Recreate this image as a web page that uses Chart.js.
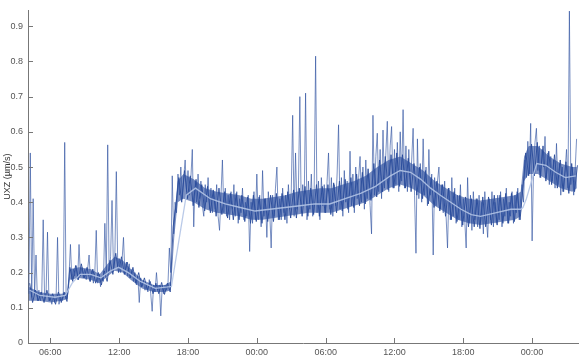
<!DOCTYPE html>
<html lang="en">
<head>
  <meta charset="UTF-8" />
  <title>UXZ</title>
  <style>
    body {
      margin: 0;
      background: #ffffff;
    }
    canvas {
      display: block;
    }
  </style>
</head>
<body>
  <canvas id="uxzChart" width="584" height="360"></canvas>

  <script src="https://cdn.jsdelivr.net/npm/chart.js"></script>
  <script>
    // raw signal, one value every 7.5 min (hours since day 1 00:00)
    const rawStart = 4.125;
    const rawStep = 0.125;
    const rawValues = [
      0.14, 0.54, 0.13, 0.41, 0.14, 0.25, 0.12, 0.15,
      0.12, 0.14, 0.35, 0.12, 0.14, 0.315, 0.12, 0.135,
      0.11, 0.135, 0.115, 0.13, 0.30, 0.11, 0.135, 0.12,
      0.13, 0.57, 0.125, 0.14, 0.19, 0.28, 0.18, 0.21,
      0.19, 0.22, 0.18, 0.28, 0.19, 0.215, 0.185, 0.21,
      0.18, 0.21, 0.25, 0.175, 0.205, 0.17, 0.2, 0.32,
      0.17, 0.195, 0.16, 0.19, 0.175, 0.34, 0.2, 0.563,
      0.2, 0.245, 0.405, 0.21, 0.25, 0.487, 0.215, 0.24,
      0.2, 0.235, 0.30, 0.195, 0.23, 0.19, 0.225, 0.185,
      0.21, 0.175, 0.2, 0.165, 0.19, 0.115, 0.185, 0.16,
      0.175, 0.15, 0.17, 0.145, 0.18, 0.14, 0.09, 0.165,
      0.145, 0.2, 0.15, 0.165, 0.077, 0.16, 0.14, 0.165,
      0.15, 0.165, 0.27, 0.2, 0.475, 0.31, 0.4, 0.37,
      0.48, 0.42, 0.5, 0.41, 0.47, 0.52, 0.43, 0.49,
      0.42, 0.47, 0.55, 0.33, 0.46, 0.4, 0.48, 0.41,
      0.46, 0.39, 0.36, 0.45, 0.4, 0.47, 0.38, 0.44,
      0.37, 0.43, 0.38, 0.45, 0.36, 0.32, 0.42, 0.52,
      0.37, 0.44, 0.36, 0.42, 0.35, 0.43, 0.38, 0.45,
      0.36, 0.43, 0.34, 0.41, 0.37, 0.44, 0.35, 0.4,
      0.36, 0.42, 0.26, 0.4, 0.34, 0.43, 0.35, 0.48,
      0.35, 0.42, 0.33, 0.49, 0.36, 0.41, 0.3, 0.43,
      0.37, 0.27, 0.42, 0.36, 0.44, 0.5, 0.35, 0.41,
      0.35, 0.44, 0.37, 0.42, 0.34, 0.45, 0.38, 0.43,
      0.647, 0.36, 0.54, 0.38, 0.44, 0.7, 0.37, 0.45,
      0.39, 0.71, 0.35, 0.46, 0.38, 0.48, 0.36, 0.44,
      0.815, 0.37, 0.46, 0.35, 0.47, 0.39, 0.45, 0.37,
      0.46, 0.54, 0.38, 0.47, 0.36, 0.45, 0.39, 0.48,
      0.62, 0.38, 0.47, 0.36, 0.49, 0.4, 0.46, 0.37,
      0.545, 0.39, 0.48, 0.37, 0.5, 0.41, 0.47, 0.53,
      0.4, 0.5, 0.38, 0.52, 0.41, 0.48, 0.39, 0.31,
      0.647, 0.42, 0.53, 0.596, 0.43, 0.55, 0.41, 0.605,
      0.44, 0.54, 0.63, 0.43, 0.56, 0.615, 0.44, 0.55,
      0.45, 0.57, 0.43, 0.6, 0.46, 0.663, 0.44, 0.56,
      0.43, 0.55, 0.45, 0.52, 0.61, 0.42, 0.255, 0.58,
      0.41, 0.51, 0.4, 0.58, 0.42, 0.5, 0.39, 0.55,
      0.42, 0.48, 0.25, 0.47, 0.39, 0.46, 0.5, 0.38,
      0.45, 0.37, 0.46, 0.36, 0.27, 0.44, 0.35, 0.47,
      0.36, 0.44, 0.34, 0.42, 0.35, 0.45, 0.33, 0.41,
      0.35, 0.27, 0.47, 0.34, 0.42, 0.32, 0.43, 0.35,
      0.41, 0.33, 0.42, 0.34, 0.4, 0.31, 0.43, 0.36,
      0.3, 0.41, 0.35, 0.43, 0.33, 0.4, 0.34, 0.42,
      0.35, 0.43, 0.33, 0.41, 0.36, 0.44, 0.34, 0.4,
      0.36, 0.43, 0.34, 0.42, 0.37, 0.44, 0.35, 0.41,
      0.45, 0.4, 0.52, 0.47, 0.573, 0.48, 0.624, 0.29,
      0.5, 0.57, 0.61, 0.49, 0.56, 0.47, 0.55, 0.5,
      0.587, 0.47, 0.54, 0.45, 0.53, 0.46, 0.52, 0.44,
      0.567, 0.45, 0.51, 0.42, 0.5, 0.43, 0.49, 0.55,
      0.44, 0.943, 0.45, 0.5, 0.42, 0.49, 0.58
    ];

    // in-between samples of the dense core, one every 15 min
    const coreStart = 4.2;
    const coreStep = 0.25;
    const coreValues = [
      0.17, 0.115, 0.15, 0.12,
      0.145, 0.115, 0.15, 0.12,
      0.14, 0.11, 0.145, 0.115,
      0.145, 0.118, 0.215, 0.175,
      0.22, 0.18, 0.225, 0.185,
      0.215, 0.175, 0.21, 0.17,
      0.2, 0.165, 0.205, 0.175,
      0.235, 0.195, 0.255, 0.2,
      0.245, 0.195, 0.23, 0.185,
      0.215, 0.17, 0.2, 0.16,
      0.185, 0.15, 0.175, 0.14,
      0.17, 0.14, 0.172, 0.138,
      0.17, 0.145, 0.33, 0.39,
      0.47, 0.4, 0.49, 0.41,
      0.475, 0.39, 0.465, 0.385,
      0.45, 0.375, 0.445, 0.37,
      0.435, 0.36, 0.44, 0.365,
      0.43, 0.355, 0.425, 0.35,
      0.425, 0.35, 0.42, 0.345,
      0.415, 0.34, 0.42, 0.345,
      0.415, 0.34, 0.41, 0.345,
      0.42, 0.345, 0.425, 0.35,
      0.425, 0.35, 0.43, 0.355,
      0.435, 0.355, 0.44, 0.36,
      0.445, 0.36, 0.44, 0.365,
      0.45, 0.36, 0.445, 0.37,
      0.45, 0.365, 0.455, 0.37,
      0.46, 0.375, 0.465, 0.38,
      0.47, 0.385, 0.48, 0.39,
      0.485, 0.395, 0.495, 0.405,
      0.51, 0.415, 0.52, 0.43,
      0.53, 0.435, 0.535, 0.44,
      0.54, 0.445, 0.535, 0.44,
      0.525, 0.43, 0.51, 0.42,
      0.5, 0.41, 0.49, 0.395,
      0.47, 0.385, 0.46, 0.375,
      0.45, 0.36, 0.44, 0.35,
      0.43, 0.345, 0.42, 0.335,
      0.415, 0.33, 0.41, 0.33,
      0.41, 0.325, 0.415, 0.33,
      0.415, 0.335, 0.42, 0.335,
      0.42, 0.34, 0.425, 0.34,
      0.425, 0.345, 0.43, 0.35,
      0.44, 0.54, 0.475, 0.565,
      0.475, 0.57, 0.47, 0.56,
      0.46, 0.545, 0.45, 0.535,
      0.44, 0.52, 0.43, 0.515,
      0.425, 0.51, 0.43, 0.505
    ];

    // dense core of the signal: lower / upper edge of the dark band
    const bandTimes = [
      4.1, 5, 6, 7, 7.5, 7.7, 8.5, 9.5, 10.3, 11, 11.6, 12.3, 13, 14, 15, 16,
      16.5, 16.8, 17.1, 17.6, 18.5, 19.5, 20.5, 21.5, 22.5, 23.5, 24.5, 25.5,
      26.5, 27.5, 28.5, 29.5, 30.5, 31.5, 32.5, 33.5, 34.5, 35.5, 36.5, 37.5,
      38.5, 39.5, 40.5, 41.5, 42.5, 43.5, 44.5, 45.5, 46.5, 47.0, 47.3, 47.7,
      48.5, 49.5, 50.5, 51.5, 51.9
    ];
    const bandLow = [
      0.12, 0.12, 0.115, 0.12, 0.125, 0.18, 0.185, 0.18, 0.17, 0.19, 0.205, 0.2, 0.18, 0.155, 0.145, 0.145,
      0.15, 0.3, 0.4, 0.41, 0.4, 0.38, 0.37, 0.365, 0.36, 0.35, 0.35, 0.355,
      0.36, 0.365, 0.37, 0.37, 0.37, 0.38, 0.39, 0.4, 0.42, 0.44, 0.45, 0.44,
      0.42, 0.39, 0.37, 0.35, 0.34, 0.335, 0.34, 0.345, 0.35, 0.36, 0.46, 0.48,
      0.48, 0.46, 0.44, 0.43, 0.44
    ];
    const bandHigh = [
      0.16, 0.145, 0.14, 0.14, 0.145, 0.21, 0.215, 0.21, 0.195, 0.225, 0.245, 0.235, 0.21, 0.18, 0.165, 0.165,
      0.175, 0.36, 0.46, 0.48, 0.465, 0.44, 0.43, 0.425, 0.42, 0.41, 0.41, 0.415,
      0.42, 0.43, 0.435, 0.44, 0.44, 0.45, 0.46, 0.475, 0.5, 0.52, 0.53, 0.51,
      0.49, 0.46, 0.44, 0.42, 0.41, 0.405, 0.41, 0.415, 0.42, 0.43, 0.53, 0.56,
      0.56, 0.53, 0.51, 0.5, 0.5
    ];

    // running mean (light line)
    const smoothTimes = [
      4.2, 5.1, 6.4, 7.3, 7.9, 8.6, 9.5, 10.4, 11.25, 11.95, 12.8, 13.85, 15.15,
      16.45, 16.55, 17.85, 18.65, 19.95, 21.25, 22.55, 23.85, 25.15, 26.45,
      27.75, 29.05, 30.35, 31.7, 33.05, 34.35, 35.65, 36.5, 37.4, 38.3, 39.15,
      40.0, 40.9, 41.8, 42.7, 43.5, 44.8, 46.15, 47.0, 47.2, 47.5, 48.4, 49.2,
      50.05, 50.9, 51.8
    ];
    const smoothValues = [
      0.15, 0.135, 0.13, 0.135, 0.17, 0.195, 0.195, 0.185, 0.205, 0.215, 0.2, 0.175, 0.155,
      0.16, 0.16, 0.42, 0.44, 0.41, 0.395, 0.385, 0.375, 0.38, 0.385,
      0.39, 0.395, 0.395, 0.41, 0.425, 0.445, 0.475, 0.49, 0.485, 0.465, 0.44,
      0.42, 0.4, 0.38, 0.365, 0.36, 0.37, 0.38, 0.38, 0.385, 0.41, 0.51, 0.505,
      0.485, 0.47, 0.475
    ];

    const xTickValues = [6, 12, 18, 24, 30, 36, 42, 48];
    const xTickLabels = ['06:00', '12:00', '18:00', '00:00', '06:00', '12:00', '18:00', '00:00'];
    const yTickValues = [0, 0.1, 0.2, 0.3, 0.4, 0.5, 0.6, 0.7, 0.8, 0.9];
    const yTickLabels = ['0', '0.1', '0.2', '0.3', '0.4', '0.5', '0.6', '0.7', '0.8', '0.9'];

    const axisColor = '#777777';
    const labelFont = { family: "'Liberation Sans', Arial, sans-serif", size: 9 };

    // matplotlib style ticks pointing into the plot
    const inwardTicks = {
      id: 'inwardTicks',
      afterDraw(chart) {
        const { ctx, scales: { x, y } } = chart;
        ctx.save();
        ctx.strokeStyle = axisColor;
        ctx.lineWidth = 1;
        ctx.beginPath();
        x.ticks.forEach(t => {
          const px = Math.round(x.getPixelForValue(t.value)) + 0.5;
          ctx.moveTo(px, x.top);
          ctx.lineTo(px, x.top - 5);
        });
        y.ticks.forEach(t => {
          const py = Math.round(y.getPixelForValue(t.value)) + 0.5;
          ctx.moveTo(y.right, py);
          ctx.lineTo(y.right + 5, py);
        });
        ctx.stroke();
        ctx.restore();
      }
    };

    const pts = (xs, ys) => xs.map((t, i) => ({ x: t, y: ys[i] }));
    const series = (start, step, ys) => ys.map((v, i) => ({ x: start + i * step, y: v }));

    const ctx = document.getElementById('uxzChart').getContext('2d');
    new Chart(ctx, {
      type: 'line',
      data: {
        datasets: [
          {
            label: 'mean',
            data: pts(smoothTimes, smoothValues),
            borderColor: 'rgba(178, 196, 230, 0.9)',
            borderWidth: 1.3,
            pointRadius: 0,
            order: 0
          },
          {
            label: 'UXZ',
            data: series(rawStart, rawStep, rawValues),
            borderColor: 'rgba(42, 78, 158, 0.62)',
            borderWidth: 1,
            pointRadius: 0,
            order: 1
          },
          {
            label: 'UXZ core',
            data: series(coreStart, coreStep, coreValues),
            borderColor: 'rgba(36, 70, 150, 0.85)',
            borderWidth: 1,
            pointRadius: 0,
            order: 2
          },
          {
            label: 'band low',
            data: pts(bandTimes, bandLow),
            borderWidth: 0,
            pointRadius: 0,
            fill: false,
            order: 4
          },
          {
            label: 'band high',
            data: pts(bandTimes, bandHigh),
            borderWidth: 0,
            backgroundColor: 'rgba(42, 76, 156, 0.62)',
            pointRadius: 0,
            fill: '-1',
            order: 3
          }
        ]
      },
      options: {
        responsive: false,
        animation: false,
        devicePixelRatio: 1,
        layout: { padding: { top: 6, right: 6, left: 0, bottom: 0 } },
        plugins: {
          legend: { display: false },
          tooltip: { enabled: false }
        },
        scales: {
          x: {
            type: 'linear',
            min: 4.05,
            max: 52,
            afterFit: s => { s.height = 17; },
            afterBuildTicks: s => { s.ticks = xTickValues.map(v => ({ value: v })); },
            grid: { display: false, drawTicks: false },
            border: { color: axisColor, width: 1 },
            ticks: {
              padding: 4,
              color: '#555555',
              font: labelFont,
              maxRotation: 0,
              callback: (v, i) => xTickLabels[i]
            }
          },
          y: {
            min: 0,
            max: 0.945,
            afterFit: s => { s.width = 28; },
            afterBuildTicks: s => { s.ticks = yTickValues.map(v => ({ value: v })); },
            grid: { display: false, drawTicks: false },
            border: { color: axisColor, width: 1 },
            ticks: {
              padding: 5,
              color: '#555555',
              font: labelFont,
              callback: (v, i) => yTickLabels[i]
            },
            title: {
              display: true,
              text: 'UXZ (µm/s)',
              color: '#333333',
              font: labelFont,
              padding: { top: 2, bottom: 0 }
            }
          }
        }
      },
      plugins: [inwardTicks]
    });
  </script>
</body>
</html>
